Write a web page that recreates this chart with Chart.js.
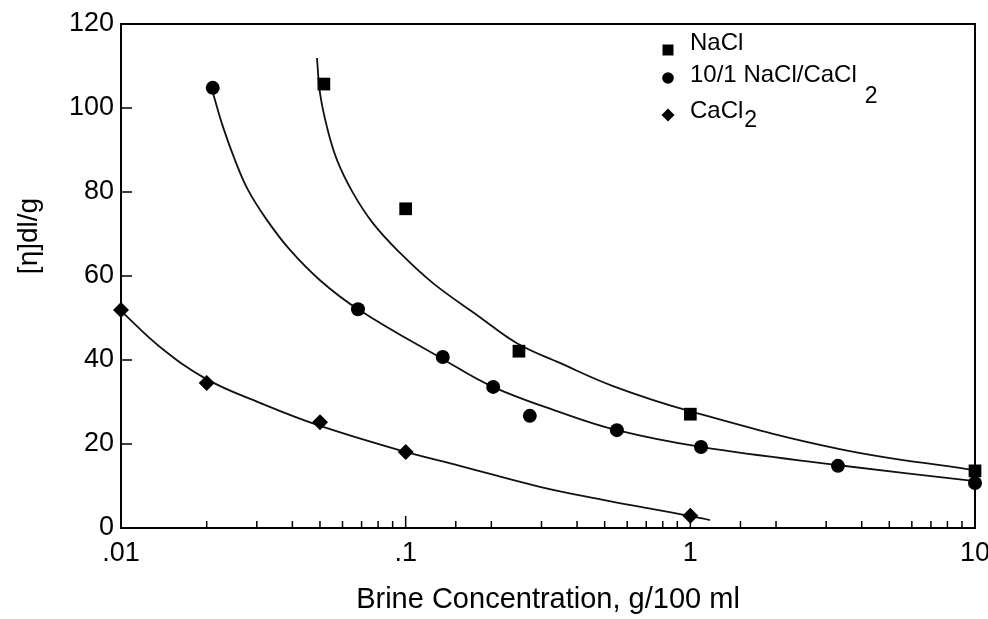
<!DOCTYPE html>
<html><head><meta charset="utf-8">
<script src="https://cdn.jsdelivr.net/npm/chart.js@4/dist/chart.umd.min.js"></script>
<style>html,body{margin:0;padding:0;background:#fff}#wrap{width:988px;height:619px;position:relative}</style>
</head><body><div id="wrap"><canvas id="c" width="988" height="619"></canvas></div>
<script>
// Measured points
const naclX = [0.0516, 0.1, 0.25, 1.0, 10];
const naclY = [105.7, 76.0, 42.1, 27.1, 13.6];
const mixX = [0.021, 0.068, 0.135, 0.203, 0.273, 0.552, 1.09, 3.3, 10];
const mixY = [104.8, 52.1, 40.7, 33.6, 26.7, 23.3, 19.3, 14.8, 10.7];
const caclX = [0.01, 0.02, 0.05, 0.1, 1.0];
const caclY = [51.9, 34.5, 25.2, 18.1, 2.9];
// Fitted curves
const naclFitX = [0.0488, 0.0500, 0.0529, 0.0574, 0.0653, 0.0767, 0.0955, 0.1247, 0.1824, 0.246, 0.348, 0.535, 0.989, 3.35, 9.83];
const naclFitY = [111.9, 103.6, 95.5, 87.6, 79.8, 72.6, 65.5, 58.3, 50.2, 44.0, 39.3, 33.8, 27.9, 18.8, 13.8];
const mixFitX = [0.02104, 0.02282, 0.02514, 0.02793, 0.03257, 0.03923, 0.0500, 0.0680, 0.1352, 0.2026, 0.348, 0.5523, 1.089, 3.272, 9.83];
const mixFitY = [103.6, 95.5, 87.6, 80.5, 73.3, 66.2, 59.0, 52.1, 40.2, 33.6, 27.6, 23.3, 19.3, 15.0, 11.2];
const caclFitX = [0.0101, 0.01371, 0.01989, 0.03077, 0.0492, 0.1002, 0.1551, 0.296, 0.493, 0.739, 0.989, 1.172];
const caclFitY = [51.4, 43.1, 35.5, 29.8, 24.5, 18.1, 14.8, 9.8, 6.7, 4.5, 2.9, 1.9];
// Axis / labels
const xTickLabels = {'-2': '.01', '-1': '.1', '0': '1', '1': '10'};
const yTicks = [0, 20, 40, 60, 80, 100, 120];
const xTitle = 'Brine Concentration, g/100 ml';
const yTitle = '[η]dl/g';
const legendItems = [
  {main: 'NaCl', sub: '', style: 'rect'},
  {main: '10/1 NaCl/CaCl', sub: '2', style: 'circle'},
  {main: 'CaCl', sub: '2', style: 'rectRot'}
];

const FONT = "'Liberation Sans', Arial, Helvetica, sans-serif";
const pts = (xs, ys) => xs.map((x, i) => ({x, y: ys[i]}));
const isDecade = v => Math.abs(Math.log10(v) - Math.round(Math.log10(v))) < 1e-6;

const fitStyle = {showLine: true, pointRadius: 0, borderColor: '#111', borderWidth: 1.8,
  tension: 0.4, order: 2, fill: false, clip: false};
const markStyle = {showLine: false, backgroundColor: '#000', borderColor: '#000', borderWidth: 0, order: 1, clip: false};

const framePlugin = {
  id: 'frame',
  beforeDatasetsDraw(chart) {
    const ctx = chart.ctx, a = chart.chartArea, xs = chart.scales.x, ys = chart.scales.y;
    ctx.save();
    ctx.strokeStyle = '#000';
    ctx.lineWidth = 2;
    ctx.strokeRect(a.left, a.top, a.right - a.left, a.bottom - a.top);
    ctx.lineWidth = 1.5;
    ctx.beginPath();
    ys.ticks.forEach(t => { const p = ys.getPixelForValue(t.value); ctx.moveTo(a.left, p); ctx.lineTo(a.left + 11, p); });
    xs.ticks.forEach(t => { const p = xs.getPixelForValue(t.value); const L = isDecade(t.value) ? 12 : 7; ctx.moveTo(p, a.bottom); ctx.lineTo(p, a.bottom - L); });
    ctx.stroke();
    // y title
    ctx.fillStyle = '#000';
    ctx.font = '28px ' + FONT;
    ctx.textAlign = 'center';
    ctx.textBaseline = 'middle';
    ctx.translate(29, 236);
    ctx.rotate(-Math.PI / 2);
    ctx.fillText(yTitle, 0, 0);
    ctx.restore();
  },
  afterDraw(chart) {
    const ctx = chart.ctx;
    ctx.save();
    ctx.fillStyle = '#000';
    const mx = 668, tx = 690;
    const rows = [{my: 50, ty: 50, subDx: 0, subY: 0}, {my: 78, ty: 82, subDx: 8, subY: 103}, {my: 115, ty: 118, subDx: 1, subY: 127}];
    legendItems.forEach((it, i) => {
      const r = rows[i];
      ctx.beginPath();
      if (it.style === 'rect') { ctx.rect(mx - 5.5, r.my - 5.5, 11, 11); }
      else if (it.style === 'circle') { ctx.arc(mx, r.my, 5.8, 0, Math.PI * 2); }
      else { ctx.moveTo(mx, r.my - 6.5); ctx.lineTo(mx + 6.5, r.my); ctx.lineTo(mx, r.my + 6.5); ctx.lineTo(mx - 6.5, r.my); ctx.closePath(); }
      ctx.fill();
      ctx.font = '24px ' + FONT;
      ctx.textAlign = 'left';
      ctx.textBaseline = 'alphabetic';
      ctx.fillText(it.main, tx, r.ty);
      if (it.sub) {
        const w = ctx.measureText(it.main).width;
        ctx.font = '23px ' + FONT;
        ctx.fillText(it.sub, tx + w + r.subDx, r.subY);
      }
    });
    ctx.restore();
  }
};

new Chart(document.getElementById('c'), {
  type: 'scatter',
  data: {
    datasets: [
      Object.assign({label: 'NaCl', data: pts(naclX, naclY), pointStyle: 'rect', pointRadius: 9}, markStyle),
      Object.assign({label: '10/1 NaCl/CaCl2', data: pts(mixX, mixY), pointStyle: 'circle', pointRadius: 7}, markStyle),
      Object.assign({label: 'CaCl2', data: pts(caclX, caclY), pointStyle: 'rectRot', pointRadius: 8}, markStyle),
      Object.assign({label: 'NaCl fit', data: pts(naclFitX, naclFitY)}, fitStyle),
      Object.assign({label: 'mix fit', data: pts(mixFitX, mixFitY)}, fitStyle),
      Object.assign({label: 'CaCl2 fit', data: pts(caclFitX, caclFitY)}, fitStyle)
    ]
  },
  options: {
    responsive: false,
    animation: false,
    layout: {padding: {left: 0, right: 13, top: 24, bottom: 0}},
    plugins: {legend: {display: false}, tooltip: {enabled: false}},
    scales: {
      x: {
        type: 'logarithmic', min: 0.01, max: 10,
        grid: {display: false, drawTicks: false},
        border: {display: false},
        ticks: {
          autoSkip: false, maxRotation: 0, minRotation: 0, padding: 9, color: '#000',
          font: {family: FONT, size: 27},
          callback: (v) => isDecade(v) ? (xTickLabels[String(Math.round(Math.log10(v)))] || '') : ''
        },
        title: {display: true, text: xTitle, color: '#000', font: {family: FONT, size: 29}, padding: {top: 0, bottom: 2}},
        afterFit: s => { s.height = 91; s.paddingLeft = 0; s.paddingRight = 0; }
      },
      y: {
        type: 'linear', min: 0, max: 120,
        grid: {display: false, drawTicks: false},
        border: {display: false},
        afterBuildTicks: s => { s.ticks = yTicks.map(v => ({value: v})); },
        ticks: {padding: 7, color: '#000', font: {family: FONT, size: 27}},
        afterFit: s => { s.width = 121; s.paddingTop = 0; s.paddingBottom = 0; }
      }
    }
  },
  plugins: [framePlugin]
});
</script></body></html>
